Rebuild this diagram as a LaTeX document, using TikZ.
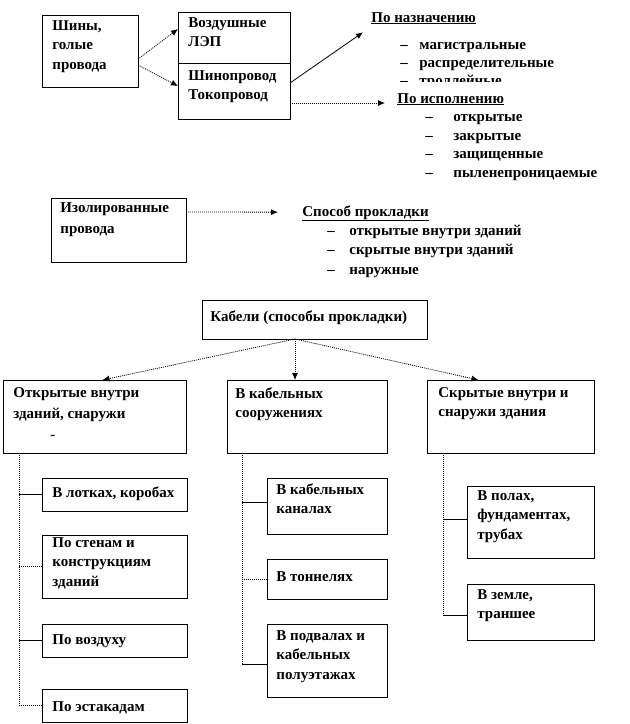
\documentclass[tikz,border=0pt]{standalone}
\usepackage{fontspec}
\setmainfont{Liberation Serif}
\usetikzlibrary{arrows.meta}

\tikzset{
  box/.style={draw, line width=1pt, anchor=north west, inner sep=0pt, outer sep=0pt},
  txt/.style={anchor=north west, inner sep=0pt, align=left,
    font=\fontsize{15}{19.5}\selectfont\bfseries, execute at begin node=\strut},
  dots/.style={dash pattern=on 1pt off 1pt},
  tip/.style={-{Latex[length=7pt,width=6pt]}},
}
\newcommand{\itm}[1]{\makebox[19pt][l]{--}#1}

\begin{document}
\begin{tikzpicture}[x=1pt, y=-1pt, line width=0.8pt]
        \useasboundingbox (0,0) rectangle (630,724);

        % Boxes
        \node[box, minimum width=96pt, minimum height=72pt] (shiny) at (42,15) {};
        \node[box, minimum width=112pt, minimum height=51pt] (vozd) at (178,12) {};
        \node[box, minimum width=112pt, minimum height=56pt] (shino) at (178,63) {};
        \node[box, minimum width=135pt, minimum height=64pt] (izol) at (51,198) {};
        \node[box, minimum width=225pt, minimum height=39pt] (kabeli) at (202,300) {};
        \node[box, minimum width=183pt, minimum height=73pt] (open) at (3,380) {};
        \node[box, minimum width=160pt, minimum height=73pt] (sooruzh) at (227,380) {};
        \node[box, minimum width=167pt, minimum height=73pt] (skryt) at (427,380) {};
        \node[box, minimum width=145pt, minimum height=33pt] (lotki) at (42,478) {};
        \node[box, minimum width=145pt, minimum height=63pt] (steny) at (42,535) {};
        \node[box, minimum width=145pt, minimum height=33pt] (vozduh) at (42,624) {};
        \node[box, minimum width=145pt, minimum height=33pt] (estak) at (42,689) {};
        \node[box, minimum width=120pt, minimum height=56pt] (kanaly) at (267,478) {};
        \node[box, minimum width=120pt, minimum height=40pt] (tonneli) at (267,559) {};
        \node[box, minimum width=120pt, minimum height=73pt] (podvaly) at (267,624) {};
        \node[box, minimum width=127pt, minimum height=72pt] (poly) at (467,486) {};
        \node[box, minimum width=127pt, minimum height=56pt] (zemlya) at (467,584) {};

        % Texts
        \node[txt] (t-shiny) at (52,20) {Шины,\\голые\\провода};
        \node[txt] (t-vozd) at (188,17) {Воздушные\\ЛЭП};
        \node[txt] (t-shino) at (188,70) {Шинопровод\\Токопровод};
        \node[txt] (h-naznach) at (371,8) {\underline{По назначению}};
        \node[txt] (i-magistr) at (400,35) {\itm{магистральные}};
        \node[txt] (i-raspred) at (400,53) {\itm{распределительные}};
        \begin{scope}
          \clip (395,60) rectangle (560,81.5);
          \node[txt] (i-troll) at (400,71) {\itm{троллейные}};
        \end{scope}
        \node[txt] (h-ispoln) at (397,89) {\underline{По исполнению}};
        \node[txt] (i-otkr) at (425,107) {\itm{\hspace{9pt}открытые}};
        \node[txt] (i-zakr) at (425,126) {\itm{\hspace{9pt}закрытые}};
        \node[txt] (i-zashch) at (425,144) {\itm{\hspace{9pt}защищенные}};
        \node[txt] (i-pyle) at (425,163) {\itm{\hspace{9pt}пыленепроницаемые}};
        \node[txt] (t-izol) at (60,202) {Изолированные\\[1.5pt]провода};
        \node[txt] (h-sposob) at (302,202) {\underline{Способ прокладки}};
        \node[txt] (i-vnutr) at (327,221) {\itm{\hspace{3pt}открытые внутри зданий}};
        \node[txt] (i-skryt) at (327,240) {\itm{\hspace{3pt}скрытые внутри зданий}};
        \node[txt] (i-naruzh) at (327,260) {\itm{\hspace{3pt}наружные}};
        \node[txt] (t-kabeli) at (210,307) {Кабели (способы прокладки)};
        \node[txt] (t-open) at (13,387) {Открытые внутри\\[1.5pt]зданий, снаружи\\[1.5pt]\hspace{37pt}-};
        \node[txt] (t-sooruzh) at (235,387) {В кабельных\\сооружениях};
        \node[txt] (t-skryt) at (438,387) {Скрытые внутри и\\снаружи здания};
        \node[txt] (t-lotki) at (52,483) {В лотках, коробах};
        \node[txt] (t-steny) at (52,537) {По стенам и\\конструкциям\\зданий};
        \node[txt] (t-vozduh) at (52,630) {По воздуху};
        \node[txt] (t-estak) at (52,697) {По эстакадам};
        \node[txt] (t-kanaly) at (276,483) {В кабельных\\каналах};
        \node[txt] (t-tonneli) at (276,567) {В тоннелях};
        \node[txt] (t-podvaly) at (276,630) {В подвалах и\\кабельных\\полуэтажах};
        \node[txt] (t-poly) at (477,490) {В полах,\\фундаментах,\\трубах};
        \node[txt] (t-zemlya) at (477,589) {В земле,\\траншее};

        % Coordinates
        \coordinate (naznachIn) at ([xshift=-8pt, yshift=-4pt]h-naznach.south west);
        \coordinate (kabeliOut) at ([xshift=-19.5pt]kabeli.south);
        \coordinate (trunkA) at ([xshift=16pt]open.south west);
        \coordinate (trunkB) at ([xshift=15pt]sooruzh.south west);
        \coordinate (trunkC) at ([xshift=16pt]skryt.south west);
        \coordinate (kanalyIn) at ([yshift=4pt]kanaly.west);
        \coordinate (podvalyIn) at ([yshift=-3.5pt]podvaly.west);
        \coordinate (polyIn) at ([yshift=3pt]poly.west);
        \coordinate (zemlyaIn) at ([yshift=-3pt]zemlya.west);

        % Drawing
        \draw[dots, tip] ([yshift=-8pt]shiny.east) -- ([yshift=8.5pt]vozd.west);
        \draw[dots, tip] ([yshift=-14pt]shiny.east) -- ([yshift=5pt]shino.west);
        \draw[tip] ([yshift=8pt]shino.east) -- (naznachIn);
        \draw[dots, tip] ([yshift=-12pt]shino.east) -- ([xshift=-12pt]h-ispoln.west |- 0,103);
        \draw[dots, tip] ([yshift=18pt]izol.east) -- ([xshift=-24pt]h-sposob.west);
        \draw[dots, tip] (kabeliOut) -- ([xshift=8pt]open.north);
        \draw[dots, tip] (kabeliOut) -- ([xshift=-12pt]sooruzh.north);
        \draw[dots, tip] (kabeliOut) -- ([xshift=-32pt]skryt.north);
        \draw[dots] (trunkA) |- (estak.west);
        \draw (lotki.west) -- (lotki.west -| trunkA);
        \draw[dots] (steny.west) -- (steny.west -| trunkA);
        \draw (vozduh.west) -- (vozduh.west -| trunkA);
        \draw[dots] (trunkB) -- (trunkB |- podvalyIn);
        \draw (kanalyIn) -- (kanalyIn -| trunkB);
        \draw[dots] (tonneli.west) -- (tonneli.west -| trunkB);
        \draw (podvalyIn) -- (podvalyIn -| trunkB);
        \draw[dots] (trunkC) -- (trunkC |- zemlyaIn);
        \draw (polyIn) -- (polyIn -| trunkC);
        \draw (zemlyaIn) -- (zemlyaIn -| trunkC);
\end{tikzpicture}
\end{document}
